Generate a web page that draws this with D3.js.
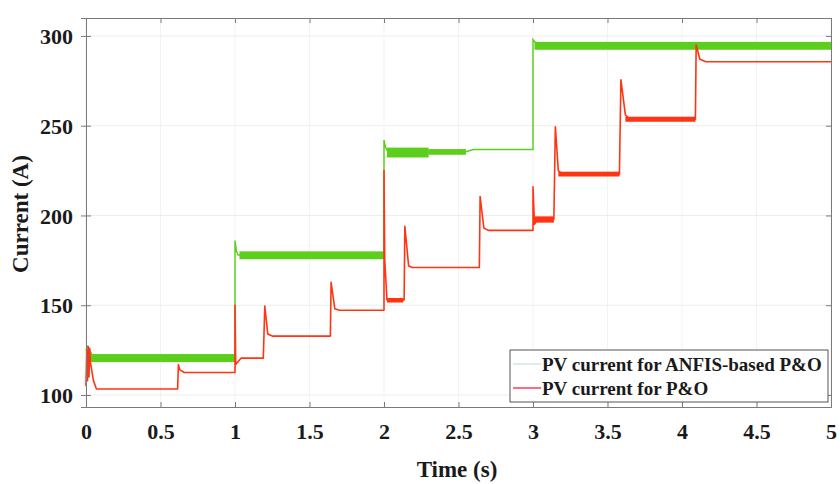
<!DOCTYPE html>
<html>
<head>
<meta charset="utf-8">
<script src="https://cdn.jsdelivr.net/npm/d3@7"></script>
<style>
body { margin: 0; background: #fff; }
svg { display: block; font-family: "Liberation Serif", "Times New Roman", serif; font-weight: bold; }
</style>
</head>
<body>
<svg id="chart" width="840" height="484"></svg>
<script>
// tick values
var xTicks = [0, 0.5, 1, 1.5, 2, 2.5, 3, 3.5, 4, 4.5, 5];
var yTicks = [100, 150, 200, 250, 300];

// ANFIS-based P&O : centre trace [time, current]
var anfisLine = [
  [0, 125], [0.01, 127], [0.03, 124], [0.05, 121], [1.0, 120],
  [1.0, 186], [1.01, 180], [1.02, 178], [2.0, 178],
  [2.0, 242], [2.01, 238], [2.03, 235], [2.55, 235.5], [2.6, 236.7], [3.0, 236.7],
  [3.0, 298], [3.02, 296], [5, 295]
];
// ANFIS ripple bands [t0, t1, low, high]
var anfisBands = [
  [0.03, 1.0, 118.3, 122.8],
  [1.03, 2.0, 175.6, 180],
  [2.02, 2.3, 232.3, 237.8],
  [2.3, 2.55, 233.8, 237],
  [3.01, 5.0, 292.3, 296.7]
];

// conventional P&O trace
var poLine = [
  [0, 105], [0.005, 125], [0.01, 108], [0.015, 127], [0.02, 110], [0.025, 126],
  [0.03, 118], [0.05, 108], [0.07, 103.3], [0.615, 103.3],
  [0.62, 117], [0.63, 114], [0.66, 112.5], [1.0, 112.5],
  [1.0, 150], [1.005, 117], [1.02, 118.5], [1.04, 120.5], [1.19, 120.5],
  [1.2, 149.5], [1.22, 134], [1.25, 132.8], [1.64, 132.8],
  [1.645, 162.8], [1.67, 148], [1.7, 147.2], [2.0, 147.2],
  [2.0, 225], [2.005, 175], [2.02, 153], [2.135, 153],
  [2.14, 194], [2.165, 172], [2.19, 171], [2.64, 171],
  [2.645, 210.6], [2.67, 193], [2.7, 191.7], [3.0, 191.7],
  [3.0, 216], [3.01, 195], [3.03, 197.8], [3.14, 197.8],
  [3.15, 249.4], [3.17, 225], [3.2, 222.8], [3.58, 222.8],
  [3.59, 275.6], [3.62, 256], [3.65, 253.6], [4.09, 253.6],
  [4.095, 295], [4.12, 287], [4.16, 285.6], [5, 285.6]
];
var poBands = [
  [2.02, 2.13, 151.5, 154],
  [3.01, 3.14, 196, 199.5],
  [3.17, 3.58, 221.7, 224.4],
  [3.62, 4.09, 252.2, 255]
];

var legendLabels = ["PV current for ANFIS-based P&O", "PV current for P&O"];

var green = "#5ccf1c", red = "#ff3412";

var margin = { top: 18, right: 9, bottom: 77, left: 86 },
  width = 840 - margin.left - margin.right,
  height = 484 - margin.top - margin.bottom;

var svg = d3.select("#chart");
var g = svg.append("g").attr("transform", "translate(" + margin.left + "," + margin.top + ")");

var xScale = d3.scaleLinear().domain([0, 5]).range([0, width]);
var yScale = d3.scaleLinear().domain([93.3, 310]).range([height, 0]);

// grid (very faint, like the matlab export)
g.selectAll(".gx").data(xTicks).enter().append("line")
  .attr("x1", function(d) { return xScale(d); }).attr("x2", function(d) { return xScale(d); })
  .attr("y1", 0).attr("y2", height)
  .attr("stroke", "#f3f3f3").attr("stroke-width", 1);
g.selectAll(".gy").data(yTicks).enter().append("line")
  .attr("x1", 0).attr("x2", width)
  .attr("y1", function(d) { return yScale(d); }).attr("y2", function(d) { return yScale(d); })
  .attr("stroke", "#ededed").attr("stroke-width", 1);

var line = d3.line()
  .x(function(d) { return xScale(d[0]); })
  .y(function(d) { return yScale(d[1]); });

function drawBands(data, color) {
  g.append("g").selectAll("rect").data(data).enter().append("rect")
    .attr("x", function(d) { return xScale(d[0]); })
    .attr("width", function(d) { return xScale(d[1]) - xScale(d[0]); })
    .attr("y", function(d) { return yScale(d[3]); })
    .attr("height", function(d) { return yScale(d[2]) - yScale(d[3]); })
    .attr("fill", color);
}

g.append("path").datum(anfisLine).attr("d", line)
  .attr("fill", "none").attr("stroke", green).attr("stroke-width", 1.5);
drawBands(anfisBands, green);

g.append("path").datum(poLine).attr("d", line)
  .attr("fill", "none").attr("stroke", red).attr("stroke-width", 1.6)
  .attr("stroke-linejoin", "round");
drawBands(poBands, red);

// axes (box with inward ticks)
var axisColor = "#7a7a7a";
var xAxis = d3.axisBottom(xScale).tickValues(xTicks).tickSize(-5).tickPadding(16)
  .tickFormat(function(d) { return d; });
var yAxis = d3.axisLeft(yScale).tickValues(yTicks).tickSize(5).tickPadding(8);

var gx = g.append("g").attr("transform", "translate(0," + height + ")").call(xAxis);
var gy = g.append("g").call(yAxis);
var gxTop = g.append("g").call(d3.axisTop(xScale).tickValues(xTicks).tickSize(-5).tickFormat(""));
var gyRight = g.append("g").attr("transform", "translate(" + width + ",0)")
  .call(d3.axisRight(yScale).tickValues(yTicks).tickSize(-5).tickFormat(""));

[gx, gy, gxTop, gyRight].forEach(function(a) {
  a.select(".domain").attr("stroke", axisColor);
  a.selectAll(".tick line").attr("stroke", axisColor);
  a.selectAll("text").attr("fill", "#1a1a1a").style("font-size", "22px")
    .style("font-family", "'Liberation Serif', serif").style("font-weight", "bold");
});
gy.selectAll(".tick line").attr("x2", 5).attr("x1", 0);
gy.selectAll(".tick").each(function() {
  d3.select(this).append("line").attr("x1", -5).attr("x2", 0)
    .attr("stroke", axisColor);
});
gy.selectAll("text").attr("dy", "0.35em").attr("x", -13);

// axis titles
svg.append("text").attr("x", 457).attr("y", 477).attr("text-anchor", "middle")
  .style("font-size", "23px").attr("fill", "#1a1a1a").text("Time (s)");
svg.append("text").attr("transform", "translate(28,214) rotate(-90)").attr("text-anchor", "middle")
  .style("font-size", "23px").attr("fill", "#1a1a1a").text("Current (A)");

// legend
var lg = svg.append("g");
lg.append("rect").attr("x", 510).attr("y", 350).attr("width", 318).attr("height", 52)
  .attr("fill", "#fff").attr("stroke", "#555").attr("stroke-width", 1);
var legendColors = ["#d8e6de", "#ff3a5a"];
legendLabels.forEach(function(label, i) {
  var yy = 364 + i * 24;
  lg.append("line").attr("x1", 513).attr("x2", 541).attr("y1", yy).attr("y2", yy)
    .attr("stroke", legendColors[i]).attr("stroke-width", 1.5);
  lg.append("text").attr("x", 542).attr("y", yy + 7).style("font-size", "19px")
    .attr("fill", "#1a1a1a").text(label);
});
</script>
</body>
</html>
